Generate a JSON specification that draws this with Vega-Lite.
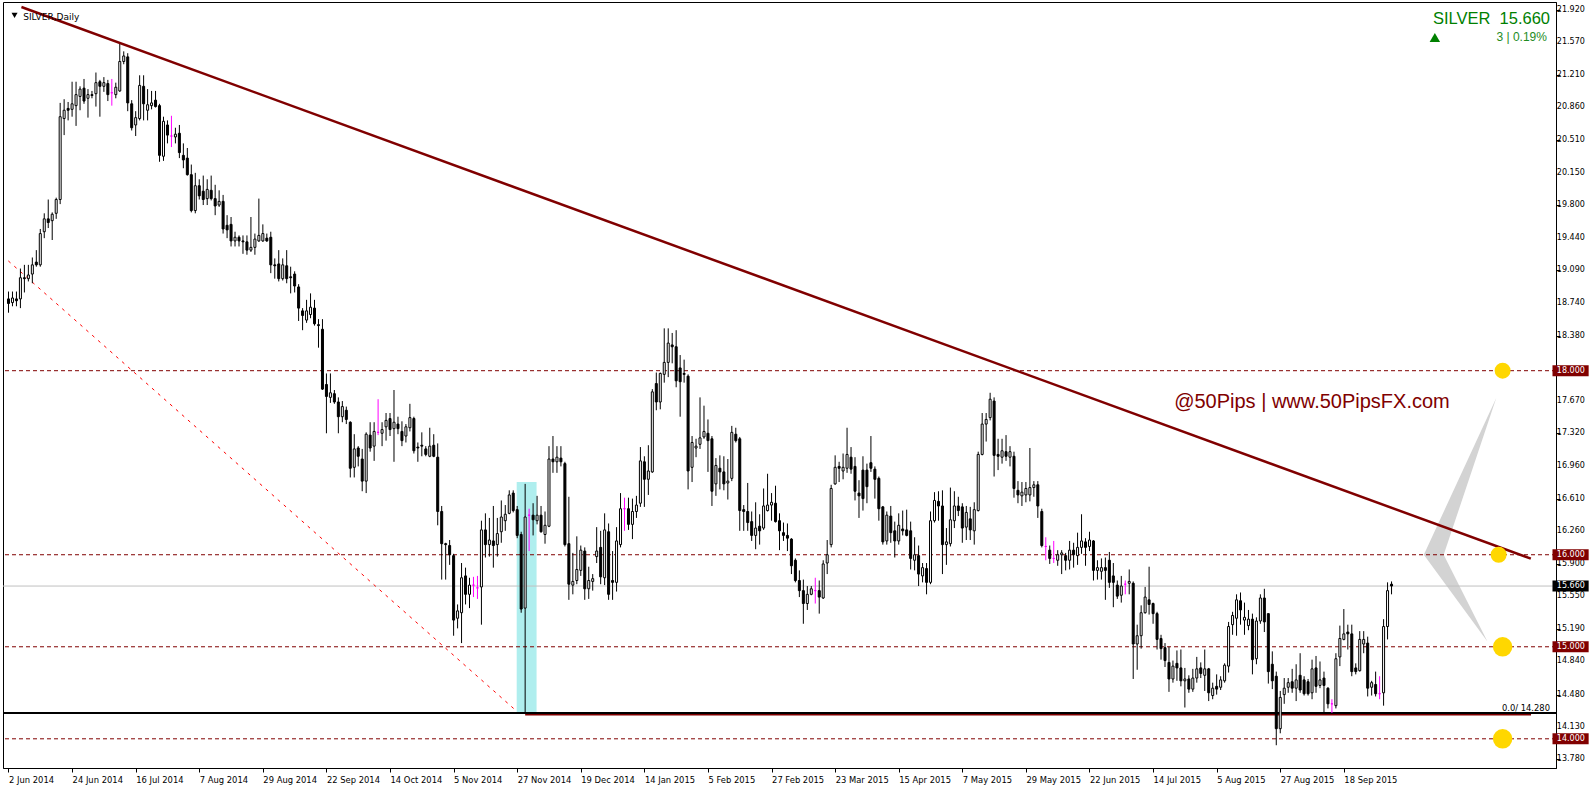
{
"$schema":"https://vega.github.io/schema/vega-lite/v6.json",
"width":1553,"height":766,
"autosize":{"type":"none"},
"padding":{"left":3,"top":2,"right":40,"bottom":18},
"background":"white",
"config":{"view":{"stroke":"black","strokeWidth":1},"axis":{"grid":false,"labelFont":"DejaVu Sans","labelFontSize":8.4,"labelColor":"black","tickColor":"black","domainColor":"black","tickSize":4,"domainWidth":1,"tickWidth":1,"labelOverlap":false,"labelBound":false,"labelFlush":false}},
"datasets":{"k":[
{"o":18.78,"h":18.86,"l":18.63,"c":18.73},{"o":18.74,"h":18.86,"l":18.70,"c":18.79},{"o":18.78,"h":18.86,"l":18.70,"c":18.76},{"o":18.78,"h":19.11,"l":18.68,"c":19.01},{"o":19.01,"h":19.15,"l":18.85,"c":19.00},
{"o":19.00,"h":19.15,"l":18.97,"c":19.04},{"o":19.05,"h":19.23,"l":18.95,"c":19.15},{"o":19.18,"h":19.31,"l":19.13,"c":19.15},{"o":19.15,"h":19.54,"l":19.13,"c":19.49},{"o":19.51,"h":19.71,"l":19.44,"c":19.65},
{"o":19.65,"h":19.86,"l":19.55,"c":19.61},{"o":19.63,"h":19.72,"l":19.42,"c":19.70},{"o":19.71,"h":19.88,"l":19.65,"c":19.86},{"o":19.86,"h":20.91,"l":19.81,"c":20.76},{"o":20.74,"h":20.95,"l":20.56,"c":20.83},
{"o":20.85,"h":20.92,"l":20.72,"c":20.83},{"o":20.84,"h":21.14,"l":20.76,"c":20.90},{"o":20.88,"h":21.14,"l":20.66,"c":21.00},{"o":20.98,"h":21.09,"l":20.83,"c":21.06},{"o":21.07,"h":21.17,"l":20.90,"c":20.93},
{"o":20.96,"h":21.06,"l":20.75,"c":21.00},{"o":21.00,"h":21.04,"l":20.96,"c":20.99},{"o":21.01,"h":21.24,"l":20.87,"c":21.13},{"o":21.14,"h":21.16,"l":20.76,"c":21.09},{"o":21.09,"h":21.19,"l":21.03,"c":21.13},
{"o":21.12,"h":21.16,"l":20.93,"c":21.00},{"o":21.02,"h":21.17,"l":20.88,"c":21.02},{"o":21.00,"h":21.13,"l":20.96,"c":21.08},{"o":21.04,"h":21.57,"l":21.03,"c":21.36},{"o":21.36,"h":21.47,"l":21.33,"c":21.42},
{"o":21.41,"h":21.45,"l":20.82,"c":20.91},{"o":20.90,"h":20.94,"l":20.61,"c":20.64},{"o":20.67,"h":20.82,"l":20.55,"c":20.75},{"o":20.74,"h":21.21,"l":20.72,"c":21.10},{"o":21.09,"h":21.21,"l":20.72,"c":20.90},
{"o":20.83,"h":21.06,"l":20.72,"c":20.89},{"o":20.88,"h":21.04,"l":20.84,"c":20.91},{"o":20.94,"h":21.04,"l":20.86,"c":20.87},{"o":20.88,"h":20.90,"l":20.27,"c":20.34},{"o":20.33,"h":20.76,"l":20.28,"c":20.71},
{"o":20.67,"h":20.72,"l":20.47,"c":20.56},{"o":20.55,"h":20.77,"l":20.43,"c":20.55},{"o":20.54,"h":20.64,"l":20.47,"c":20.57},{"o":20.58,"h":20.67,"l":20.31,"c":20.37},{"o":20.34,"h":20.47,"l":20.20,"c":20.29},
{"o":20.31,"h":20.42,"l":20.12,"c":20.13},{"o":20.13,"h":20.24,"l":19.72,"c":19.74},{"o":19.74,"h":20.15,"l":19.71,"c":20.01},{"o":20.01,"h":20.08,"l":19.86,"c":19.90},{"o":19.95,"h":20.12,"l":19.80,"c":19.86},
{"o":19.87,"h":20.08,"l":19.80,"c":19.97},{"o":19.96,"h":20.12,"l":19.85,"c":19.87},{"o":19.87,"h":20.02,"l":19.69,"c":19.79},{"o":19.80,"h":19.96,"l":19.78,"c":19.84},{"o":19.84,"h":19.91,"l":19.49,"c":19.54},
{"o":19.58,"h":19.69,"l":19.44,"c":19.53},{"o":19.59,"h":19.67,"l":19.35,"c":19.41},{"o":19.41,"h":19.51,"l":19.35,"c":19.45},{"o":19.45,"h":19.47,"l":19.35,"c":19.41},{"o":19.41,"h":19.47,"l":19.27,"c":19.40},
{"o":19.40,"h":19.47,"l":19.26,"c":19.31},{"o":19.31,"h":19.67,"l":19.29,"c":19.34},{"o":19.34,"h":19.49,"l":19.26,"c":19.43},{"o":19.41,"h":19.87,"l":19.40,"c":19.47},{"o":19.41,"h":19.59,"l":19.40,"c":19.49},
{"o":19.44,"h":19.49,"l":19.40,"c":19.41},{"o":19.45,"h":19.51,"l":19.06,"c":19.15},{"o":19.15,"h":19.22,"l":19.00,"c":19.14},{"o":19.16,"h":19.31,"l":18.97,"c":19.00},{"o":19.00,"h":19.22,"l":18.98,"c":19.15},
{"o":19.14,"h":19.31,"l":18.95,"c":19.00},{"o":19.02,"h":19.13,"l":18.84,"c":19.01},{"o":19.05,"h":19.08,"l":18.85,"c":18.92},{"o":18.91,"h":18.94,"l":18.54,"c":18.68},{"o":18.65,"h":18.68,"l":18.44,"c":18.60},
{"o":18.55,"h":18.77,"l":18.52,"c":18.65},{"o":18.61,"h":18.84,"l":18.57,"c":18.69},{"o":18.68,"h":18.77,"l":18.49,"c":18.51},{"o":18.50,"h":18.56,"l":18.25,"c":18.49},{"o":18.45,"h":18.56,"l":17.79,"c":17.80},
{"o":17.85,"h":17.97,"l":17.32,"c":17.72},{"o":17.71,"h":17.97,"l":17.65,"c":17.76},{"o":17.75,"h":17.79,"l":17.64,"c":17.66},{"o":17.66,"h":17.71,"l":17.32,"c":17.50},{"o":17.50,"h":17.67,"l":17.44,"c":17.61},
{"o":17.57,"h":17.61,"l":17.42,"c":17.47},{"o":17.44,"h":17.45,"l":16.84,"c":16.94},{"o":16.95,"h":17.31,"l":16.84,"c":17.15},{"o":17.16,"h":17.18,"l":16.96,"c":17.07},{"o":17.04,"h":17.15,"l":16.69,"c":16.80},
{"o":16.80,"h":17.33,"l":16.67,"c":17.31},{"o":17.30,"h":17.44,"l":17.12,"c":17.16},{"o":17.18,"h":17.44,"l":17.02,"c":17.34},{"o":17.33,"h":17.69,"l":17.30,"c":17.33},{"o":17.32,"h":17.44,"l":17.18,"c":17.36},
{"o":17.39,"h":17.54,"l":17.24,"c":17.46},{"o":17.48,"h":17.54,"l":17.29,"c":17.36},{"o":17.37,"h":17.79,"l":17.01,"c":17.44},{"o":17.42,"h":17.50,"l":17.31,"c":17.37},{"o":17.34,"h":17.45,"l":17.18,"c":17.24},
{"o":17.29,"h":17.42,"l":17.22,"c":17.39},{"o":17.38,"h":17.64,"l":17.34,"c":17.49},{"o":17.48,"h":17.50,"l":17.10,"c":17.13},{"o":17.17,"h":17.22,"l":17.01,"c":17.16},{"o":17.19,"h":17.33,"l":17.07,"c":17.18},
{"o":17.15,"h":17.18,"l":17.07,"c":17.09},{"o":17.07,"h":17.38,"l":17.06,"c":17.18},{"o":17.19,"h":17.31,"l":17.06,"c":17.07},{"o":17.06,"h":17.21,"l":16.32,"c":16.47},{"o":16.47,"h":16.53,"l":15.73,"c":16.12},
{"o":16.12,"h":16.13,"l":15.73,"c":16.11},{"o":16.10,"h":16.16,"l":15.89,"c":16.00},{"o":15.99,"h":16.01,"l":15.12,"c":15.29},{"o":15.31,"h":15.46,"l":15.20,"c":15.39},{"o":15.37,"h":15.91,"l":15.04,"c":15.75},
{"o":15.77,"h":15.86,"l":15.46,"c":15.57},{"o":15.57,"h":15.75,"l":15.42,"c":15.67},{"o":15.67,"h":15.76,"l":15.54,"c":15.67},{"o":15.64,"h":15.77,"l":15.52,"c":15.64},{"o":15.65,"h":16.37,"l":15.24,"c":16.27},
{"o":16.27,"h":16.45,"l":15.97,"c":16.11},{"o":16.11,"h":16.40,"l":15.98,"c":16.16},{"o":16.15,"h":16.53,"l":15.86,"c":16.10},{"o":16.11,"h":16.40,"l":15.98,"c":16.23},{"o":16.25,"h":16.59,"l":16.13,"c":16.41},
{"o":16.37,"h":16.54,"l":16.26,"c":16.44},{"o":16.45,"h":16.70,"l":16.44,"c":16.65},{"o":16.67,"h":16.70,"l":16.46,"c":16.48},{"o":16.49,"h":16.53,"l":16.18,"c":16.21},{"o":16.22,"h":16.25,"l":15.37,"c":15.41},
{"o":15.42,"h":16.77,"l":14.28,"c":16.41},{"o":16.43,"h":16.50,"l":16.04,"c":16.43},{"o":16.43,"h":16.56,"l":16.21,"c":16.38},{"o":16.37,"h":16.64,"l":16.33,"c":16.43},{"o":16.43,"h":16.53,"l":16.24,"c":16.25},
{"o":16.22,"h":16.47,"l":16.12,"c":16.32},{"o":16.31,"h":17.18,"l":16.30,"c":17.04},{"o":17.04,"h":17.29,"l":16.89,"c":17.01},{"o":17.01,"h":17.18,"l":16.89,"c":17.06},{"o":17.05,"h":17.18,"l":16.96,"c":17.01},
{"o":16.99,"h":17.01,"l":16.09,"c":16.11},{"o":16.12,"h":16.63,"l":15.51,"c":15.68},{"o":15.67,"h":16.02,"l":15.57,"c":15.71},{"o":15.72,"h":16.20,"l":15.68,"c":15.84},{"o":15.83,"h":16.10,"l":15.77,"c":16.05},
{"o":16.04,"h":16.08,"l":15.51,"c":15.63},{"o":15.63,"h":15.87,"l":15.52,"c":15.72},{"o":15.71,"h":15.79,"l":15.61,"c":15.74},{"o":15.98,"h":16.30,"l":15.91,"c":16.04},{"o":16.08,"h":16.26,"l":15.68,"c":15.76},
{"o":15.75,"h":16.45,"l":15.67,"c":16.27},{"o":16.25,"h":16.34,"l":15.51,"c":15.57},{"o":15.72,"h":16.04,"l":15.51,"c":15.70},{"o":15.70,"h":16.30,"l":15.60,"c":16.15},{"o":16.11,"h":16.67,"l":16.08,"c":16.50},
{"o":16.50,"h":16.62,"l":16.26,"c":16.50},{"o":16.50,"h":16.62,"l":16.27,"c":16.33},{"o":16.33,"h":16.61,"l":16.17,"c":16.47},{"o":16.47,"h":16.64,"l":16.40,"c":16.54},{"o":16.56,"h":17.17,"l":16.52,"c":17.02},
{"o":17.01,"h":17.07,"l":16.52,"c":16.82},{"o":16.82,"h":17.19,"l":16.65,"c":16.91},{"o":16.90,"h":17.80,"l":16.89,"c":17.77},{"o":17.86,"h":17.98,"l":17.57,"c":17.66},{"o":17.66,"h":17.98,"l":17.58,"c":17.97},
{"o":17.96,"h":18.46,"l":17.87,"c":18.09},{"o":18.09,"h":18.46,"l":17.93,"c":18.30},{"o":18.28,"h":18.41,"l":18.08,"c":18.26},{"o":18.26,"h":18.44,"l":17.82,"c":17.89},{"o":18.03,"h":18.17,"l":17.50,"c":17.88},
{"o":17.97,"h":18.12,"l":17.87,"c":17.96},{"o":17.94,"h":17.96,"l":16.71,"c":16.91},{"o":16.95,"h":17.29,"l":16.79,"c":17.22},{"o":17.16,"h":17.26,"l":17.06,"c":17.18},{"o":17.20,"h":17.71,"l":17.15,"c":17.27},
{"o":17.28,"h":17.62,"l":17.26,"c":17.34},{"o":17.32,"h":17.47,"l":16.90,"c":17.24},{"o":17.26,"h":17.29,"l":16.53,"c":16.69},{"o":16.77,"h":17.05,"l":16.64,"c":16.97},{"o":16.94,"h":17.08,"l":16.71,"c":16.90},
{"o":16.90,"h":17.07,"l":16.70,"c":16.77},{"o":16.78,"h":17.04,"l":16.60,"c":16.80},{"o":16.83,"h":17.40,"l":16.80,"c":17.33},{"o":17.31,"h":17.38,"l":17.22,"c":17.24},{"o":17.26,"h":17.28,"l":16.26,"c":16.48},
{"o":16.49,"h":16.54,"l":16.26,"c":16.47},{"o":16.47,"h":16.78,"l":16.26,"c":16.35},{"o":16.36,"h":16.47,"l":16.15,"c":16.21},{"o":16.21,"h":16.57,"l":16.06,"c":16.29},{"o":16.31,"h":16.44,"l":16.11,"c":16.26},
{"o":16.29,"h":16.72,"l":16.27,"c":16.53},{"o":16.48,"h":16.88,"l":16.47,"c":16.54},{"o":16.54,"h":16.67,"l":16.37,"c":16.57},{"o":16.56,"h":16.75,"l":16.35,"c":16.36},{"o":16.37,"h":16.45,"l":16.05,"c":16.26},
{"o":16.24,"h":16.35,"l":16.15,"c":16.21},{"o":16.21,"h":16.34,"l":16.04,"c":16.18},{"o":16.17,"h":16.18,"l":15.79,"c":15.88},{"o":15.94,"h":15.96,"l":15.70,"c":15.72},{"o":15.72,"h":15.83,"l":15.54,"c":15.61},
{"o":15.61,"h":15.73,"l":15.25,"c":15.47},{"o":15.47,"h":15.66,"l":15.40,"c":15.57},{"o":15.57,"h":15.66,"l":15.56,"c":15.63},{"o":15.61,"h":15.75,"l":15.47,"c":15.61},{"o":15.61,"h":15.72,"l":15.36,"c":15.54},
{"o":15.53,"h":15.94,"l":15.52,"c":15.90},{"o":15.91,"h":16.16,"l":15.79,"c":16.00},{"o":16.11,"h":16.76,"l":16.08,"c":16.72},{"o":16.77,"h":17.08,"l":16.76,"c":16.95},{"o":16.96,"h":17.01,"l":16.79,"c":16.94},
{"o":16.91,"h":17.10,"l":16.82,"c":16.95},{"o":16.94,"h":17.38,"l":16.89,"c":17.09},{"o":17.06,"h":17.17,"l":16.88,"c":16.93},{"o":16.96,"h":17.06,"l":16.59,"c":16.69},{"o":16.67,"h":16.81,"l":16.40,"c":16.64},
{"o":16.92,"h":17.07,"l":16.48,"c":16.61},{"o":16.92,"h":16.99,"l":16.56,"c":16.74},{"o":17.00,"h":17.29,"l":16.90,"c":16.94},{"o":16.93,"h":16.96,"l":16.61,"c":16.82},{"o":16.83,"h":16.85,"l":16.37,"c":16.50},
{"o":16.52,"h":16.53,"l":16.11,"c":16.14},{"o":16.15,"h":16.47,"l":16.11,"c":16.43},{"o":16.42,"h":16.53,"l":16.13,"c":16.24},{"o":16.26,"h":16.36,"l":15.97,"c":16.15},{"o":16.15,"h":16.45,"l":16.11,"c":16.32},
{"o":16.28,"h":16.48,"l":16.21,"c":16.26},{"o":16.27,"h":16.49,"l":16.20,"c":16.21},{"o":16.26,"h":16.36,"l":15.84,"c":15.96},{"o":15.94,"h":16.19,"l":15.83,"c":16.00},{"o":15.99,"h":16.10,"l":15.66,"c":15.79},
{"o":15.77,"h":15.91,"l":15.70,"c":15.86},{"o":15.85,"h":15.91,"l":15.57,"c":15.70},{"o":15.70,"h":16.47,"l":15.68,"c":16.37},{"o":16.37,"h":16.68,"l":16.35,"c":16.59},{"o":16.58,"h":16.69,"l":16.37,"c":16.53},
{"o":16.53,"h":16.70,"l":15.79,"c":16.11},{"o":16.11,"h":16.29,"l":15.89,"c":16.14},{"o":16.12,"h":16.73,"l":16.09,"c":16.38},{"o":16.37,"h":16.69,"l":16.29,"c":16.53},{"o":16.53,"h":16.63,"l":16.42,"c":16.48},
{"o":16.52,"h":16.56,"l":16.13,"c":16.29},{"o":16.30,"h":16.53,"l":16.16,"c":16.46},{"o":16.39,"h":16.52,"l":16.16,"c":16.27},{"o":16.26,"h":16.57,"l":16.11,"c":16.49},{"o":16.48,"h":17.12,"l":16.47,"c":17.09},
{"o":17.09,"h":17.54,"l":17.08,"c":17.42},{"o":17.42,"h":17.54,"l":17.23,"c":17.47},{"o":17.49,"h":17.76,"l":17.46,"c":17.69},{"o":17.67,"h":17.71,"l":16.85,"c":17.08},{"o":17.09,"h":17.26,"l":16.92,"c":17.07},
{"o":17.06,"h":17.26,"l":16.99,"c":17.13},{"o":17.12,"h":17.30,"l":17.02,"c":17.07},{"o":17.06,"h":17.18,"l":16.96,"c":17.12},{"o":17.07,"h":17.12,"l":16.62,"c":16.72},{"o":16.70,"h":16.80,"l":16.56,"c":16.65},
{"o":16.64,"h":16.79,"l":16.53,"c":16.68},{"o":16.65,"h":16.79,"l":16.57,"c":16.72},{"o":16.65,"h":17.16,"l":16.58,"c":16.73},{"o":16.73,"h":16.80,"l":16.63,"c":16.76},{"o":16.76,"h":16.80,"l":16.40,"c":16.53},
{"o":16.47,"h":16.50,"l":16.08,"c":16.10},{"o":16.09,"h":16.19,"l":15.94,"c":16.09},{"o":16.05,"h":16.10,"l":15.90,"c":15.96},{"o":15.96,"h":16.15,"l":15.91,"c":15.96},{"o":15.94,"h":16.05,"l":15.88,"c":16.00},
{"o":16.00,"h":16.05,"l":15.79,"c":16.02},{"o":15.99,"h":16.02,"l":15.83,"c":15.94},{"o":15.94,"h":16.15,"l":15.84,"c":16.05},{"o":16.05,"h":16.13,"l":15.86,"c":16.00},{"o":15.99,"h":16.24,"l":15.89,"c":16.08},
{"o":16.08,"h":16.44,"l":16.01,"c":16.15},{"o":16.14,"h":16.18,"l":15.88,"c":16.08},{"o":16.09,"h":16.25,"l":16.04,"c":16.16},{"o":16.15,"h":16.16,"l":15.72,"c":15.83},{"o":15.83,"h":15.94,"l":15.73,"c":15.86},
{"o":15.82,"h":15.96,"l":15.73,"c":15.86},{"o":15.86,"h":15.97,"l":15.51,"c":15.83},{"o":15.94,"h":16.03,"l":15.64,"c":15.70},{"o":15.77,"h":15.91,"l":15.43,"c":15.70},{"o":15.67,"h":15.72,"l":15.52,"c":15.55},
{"o":15.56,"h":15.77,"l":15.48,"c":15.66},{"o":15.68,"h":15.72,"l":15.57,"c":15.68},{"o":15.69,"h":15.84,"l":15.57,"c":15.71},{"o":15.69,"h":15.71,"l":14.65,"c":15.03},{"o":15.03,"h":15.24,"l":14.75,"c":15.12},
{"o":15.12,"h":15.45,"l":14.98,"c":15.37},{"o":15.37,"h":15.65,"l":15.36,"c":15.54},{"o":15.51,"h":15.87,"l":15.35,"c":15.46},{"o":15.47,"h":15.48,"l":15.25,"c":15.36},{"o":15.36,"h":15.38,"l":14.97,"c":15.08},
{"o":15.09,"h":15.13,"l":14.86,"c":14.98},{"o":14.99,"h":15.04,"l":14.78,"c":14.85},{"o":14.83,"h":15.00,"l":14.51,"c":14.65},{"o":14.65,"h":14.85,"l":14.61,"c":14.79},{"o":14.82,"h":14.96,"l":14.63,"c":14.77},
{"o":14.77,"h":14.97,"l":14.57,"c":14.63},{"o":14.63,"h":14.77,"l":14.34,"c":14.65},{"o":14.65,"h":14.69,"l":14.50,"c":14.54},{"o":14.54,"h":14.76,"l":14.51,"c":14.66},{"o":14.66,"h":14.89,"l":14.61,"c":14.76},
{"o":14.77,"h":14.83,"l":14.66,"c":14.71},{"o":14.69,"h":14.97,"l":14.52,"c":14.76},{"o":14.76,"h":14.77,"l":14.41,"c":14.50},{"o":14.47,"h":14.61,"l":14.43,"c":14.55},{"o":14.57,"h":14.70,"l":14.48,"c":14.54},
{"o":14.56,"h":14.68,"l":14.53,"c":14.64},{"o":14.63,"h":14.82,"l":14.61,"c":14.80},{"o":14.79,"h":15.27,"l":14.72,"c":15.22},{"o":15.24,"h":15.38,"l":15.13,"c":15.34},{"o":15.31,"h":15.57,"l":15.12,"c":15.51},
{"o":15.50,"h":15.59,"l":15.24,"c":15.40},{"o":15.29,"h":15.48,"l":15.13,"c":15.32},{"o":15.23,"h":15.40,"l":15.18,"c":15.30},{"o":15.30,"h":15.36,"l":14.70,"c":14.86},{"o":14.87,"h":15.32,"l":14.81,"c":15.28},
{"o":15.28,"h":15.57,"l":15.25,"c":15.53},{"o":15.53,"h":15.63,"l":15.16,"c":15.27},{"o":15.36,"h":15.36,"l":14.60,"c":14.73},{"o":14.81,"h":14.95,"l":14.54,"c":14.63},{"o":14.68,"h":14.73,"l":13.93,"c":14.11},
{"o":14.11,"h":14.52,"l":14.06,"c":14.45},{"o":14.48,"h":14.66,"l":14.38,"c":14.55},{"o":14.56,"h":14.66,"l":14.50,"c":14.61},{"o":14.62,"h":14.76,"l":14.50,"c":14.55},{"o":14.55,"h":14.81,"l":14.41,"c":14.64},
{"o":14.69,"h":14.93,"l":14.50,"c":14.53},{"o":14.64,"h":14.68,"l":14.47,"c":14.49},{"o":14.62,"h":14.65,"l":14.47,"c":14.49},{"o":14.50,"h":14.86,"l":14.43,"c":14.76},{"o":14.77,"h":14.90,"l":14.50,"c":14.57},
{"o":14.58,"h":14.84,"l":14.55,"c":14.64},{"o":14.66,"h":14.73,"l":14.28,"c":14.58},{"o":14.55,"h":14.56,"l":14.33,"c":14.38},{"o":14.38,"h":14.43,"l":14.28,"c":14.38},{"o":14.36,"h":14.93,"l":14.33,"c":14.87},
{"o":14.89,"h":15.23,"l":14.79,"c":15.09},{"o":15.08,"h":15.41,"l":15.07,"c":15.14},{"o":15.16,"h":15.24,"l":14.97,"c":15.14},{"o":15.14,"h":15.24,"l":14.68,"c":14.73},{"o":14.77,"h":14.82,"l":14.70,"c":14.73},
{"o":14.74,"h":15.17,"l":14.73,"c":15.08},{"o":15.03,"h":15.17,"l":14.93,"c":15.08},{"o":15.04,"h":15.11,"l":14.46,"c":14.55},{"o":14.56,"h":14.63,"l":14.47,"c":14.61},{"o":14.59,"h":14.73,"l":14.46,"c":14.49},
{"o":14.49,"h":14.68,"l":14.43,"c":14.49},{"o":14.50,"h":15.30,"l":14.36,"c":15.22},{"o":15.22,"h":15.70,"l":15.08,"c":15.61},{"o":15.68,"h":15.71,"l":15.57,"c":15.66}
],
"yt":[{"v":21.92},{"v":21.57},{"v":21.21},{"v":20.86},{"v":20.51},{"v":20.15},{"v":19.8},{"v":19.44},{"v":19.09},{"v":18.74},{"v":18.38},{"v":17.67},{"v":17.32},{"v":16.96},{"v":16.61},{"v":16.26},{"v":15.9},{"v":15.55},{"v":15.19},{"v":14.84},{"v":14.48},{"v":14.13},{"v":13.78}]
},
"layer":[
{"data":{"values":[{"a":128.875,"b":133.875,"lo":14.28,"hi":16.79}]},
 "mark":{"type":"rect","color":"#AFEEEE"},
 "encoding":{"x":{"field":"a","type":"quantitative","title":null,"scale":{"domain":[0.875,389.125],"nice":false,"zero":false}},"x2":{"field":"b"},
 "y":{"field":"lo","type":"quantitative","title":null,"scale":{"domain":[13.737,21.952],"nice":false,"zero":false}},"y2":{"field":"hi"}}},
{"data":{"values":[{"p":17.705,"a":375.375,"b":375.375},{"p":16.0,"a":357.125,"b":362.125},{"p":15.056,"a":373.125,"b":373.125}]},
 "mark":{"type":"area","orient":"horizontal","color":"#D3D3D3","opacity":1},
 "encoding":{"y":{"field":"p","type":"quantitative","title":null},"x":{"field":"a","type":"quantitative","title":null},"x2":{"field":"b"}}},
{"data":{"values":[{"v":18},{"v":16},{"v":15},{"v":14}]},
 "mark":{"type":"rule","color":"#800000","strokeDash":[4,3],"strokeWidth":1},
 "encoding":{"y":{"field":"v","type":"quantitative","title":null}}},
{"data":{"values":[{"v":15.66}]},
 "mark":{"type":"rule","color":"#C0C0C0","strokeWidth":1},
 "encoding":{"y":{"field":"v","type":"quantitative","title":null}}},
{"data":{"values":[{"v":14.28}]},
 "mark":{"type":"rule","color":"black","strokeWidth":2},
 "encoding":{"y":{"field":"v","type":"quantitative","title":null}}},
{"data":{"values":[{"a":131,"b":384.1,"v":14.262}]},
 "mark":{"type":"rule","color":"#800000","strokeWidth":1.5},
 "encoding":{"x":{"field":"a","type":"quantitative","title":null},"x2":{"field":"b"},"y":{"field":"v","type":"quantitative","title":null}}},
{"data":{"values":[{"a":0.95,"b":128.875,"v":19.193,"w":14.30}]},
 "mark":{"type":"rule","color":"#FF0000","strokeWidth":1,"strokeDash":[3,5]},
 "encoding":{"x":{"field":"a","type":"quantitative","title":null},"x2":{"field":"b"},"y":{"field":"v","type":"quantitative","title":null},"y2":{"field":"w"}}},
{"data":{"name":"k"},
 "transform":[{"window":[{"op":"row_number","as":"n"}]}],
 "mark":{"type":"rule","strokeWidth":1},
 "encoding":{
  "x":{"field":"n","type":"quantitative","title":null,"scale":{"domain":[0.875,389.125],"nice":false,"zero":false},
   "axis":{"title":null,"values":[1,17,33,49,65,81,97,113,129,145,161,177,193,209,225,241,257,273,289,305,321,337],
   "labelExpr":"['2 Jun 2014','24 Jun 2014','16 Jul 2014','7 Aug 2014','29 Aug 2014','22 Sep 2014','14 Oct 2014','5 Nov 2014','27 Nov 2014','19 Dec 2014','14 Jan 2015','5 Feb 2015','27 Feb 2015','23 Mar 2015','15 Apr 2015','7 May 2015','29 May 2015','22 Jun 2015','14 Jul 2015','5 Aug 2015','27 Aug 2015','18 Sep 2015'][round((datum.value-1)/16)]",
   "labelAlign":"left","labelDx":-1,"labelPadding":3,"labelFlush":false,"labelBound":false,"labelOverlap":false,"tickSize":4}},
  "y":{"field":"l","type":"quantitative","title":null,"scale":{"domain":[13.737,21.952],"nice":false,"zero":false},
   "axis":{"title":null,"orient":"right","values":[21.92,21.57,21.21,20.86,20.51,20.15,19.8,19.44,19.09,18.74,18.38,17.67,17.32,16.96,16.61,16.26,15.9,15.55,15.19,14.84,14.48,14.13,13.78],
   "labels":false,"tickSize":4}},
  "y2":{"field":"h"},
  "stroke":{"condition":{"test":"datum.o == datum.c","value":"#FF00FF"},"value":"black"}}},
{"data":{"name":"k"},
 "transform":[{"window":[{"op":"row_number","as":"n"}]}],
 "mark":{"type":"bar","size":2,"strokeWidth":1,"orient":"vertical"},
 "encoding":{
  "x":{"field":"n","type":"quantitative","title":null},
  "y":{"field":"o","type":"quantitative","title":null},
  "y2":{"field":"c"},
  "fill":{"condition":{"test":"datum.c > datum.o","value":"white"},"value":"black"},
  "stroke":{"condition":{"test":"datum.o == datum.c","value":"#FF00FF"},"value":"black"}}},
{"data":{"values":[{"a":4.25,"b":384.05,"v":21.952,"w":15.957}]},
 "mark":{"type":"rule","color":"#800000","strokeWidth":2.5},
 "encoding":{"x":{"field":"a","type":"quantitative","title":null},"x2":{"field":"b"},"y":{"field":"v","type":"quantitative","title":null},"y2":{"field":"w"}}},
{"data":{"values":[{"a":376.95,"v":18},{"a":375.95,"v":16}]},
 "mark":{"type":"circle","size":254,"color":"#FFD700","opacity":1},
 "encoding":{"x":{"field":"a","type":"quantitative","title":null},"y":{"field":"v","type":"quantitative","title":null}}},
{"data":{"values":[{"a":376.95,"v":15},{"a":376.95,"v":14}]},
 "mark":{"type":"circle","size":380,"color":"#FFD700","opacity":1},
 "encoding":{"x":{"field":"a","type":"quantitative","title":null},"y":{"field":"v","type":"quantitative","title":null}}},
{"data":{"values":[{"a":294.3,"v":17.598,"t":"@50Pips | www.50PipsFX.com"}]},
 "mark":{"type":"text","align":"left","baseline":"alphabetic","font":"Liberation Sans","fontSize":20,"color":"#800000"},
 "encoding":{"x":{"field":"a","type":"quantitative","title":null},"y":{"field":"v","type":"quantitative","title":null},"text":{"field":"t"}}},
{"data":{"values":[{"a":388.875,"v":21.77,"t":"SILVER\u00a0\u00a015.660"}]},
 "mark":{"type":"text","align":"right","baseline":"alphabetic","font":"Liberation Sans","fontSize":16.5,"color":"#008000"},
 "encoding":{"x":{"field":"a","type":"quantitative","title":null},"y":{"field":"v","type":"quantitative","title":null},"text":{"field":"t"}}},
{"data":{"values":[{"a":388.1,"v":21.582,"t":"3 | 0.19%"}]},
 "mark":{"type":"text","align":"right","baseline":"alphabetic","font":"Liberation Sans","fontSize":12,"color":"#1E8C1E"},
 "encoding":{"x":{"field":"a","type":"quantitative","title":null},"y":{"field":"v","type":"quantitative","title":null},"text":{"field":"t"}}},
{"data":{"values":[{"a":359.9,"v":21.62}]},
 "mark":{"type":"point","shape":"triangle-up","size":110,"filled":true,"color":"#008000","opacity":1},
 "encoding":{"x":{"field":"a","type":"quantitative","title":null},"y":{"field":"v","type":"quantitative","title":null}}},
{"data":{"values":[{"a":2.525,"v":21.862}]},
 "mark":{"type":"point","shape":"triangle-down","size":36,"filled":true,"color":"black","opacity":1},
 "encoding":{"x":{"field":"a","type":"quantitative","title":null},"y":{"field":"v","type":"quantitative","title":null}}},
{"data":{"values":[{"a":4.7,"v":21.813,"t":"SILVER,Daily"}]},
 "mark":{"type":"text","align":"left","baseline":"alphabetic","font":"DejaVu Sans","fontSize":9,"color":"black"},
 "encoding":{"x":{"field":"a","type":"quantitative","title":null},"y":{"field":"v","type":"quantitative","title":null},"text":{"field":"t"}}},
{"data":{"name":"yt"},
 "mark":{"type":"text","align":"left","baseline":"middle","font":"DejaVu Sans","fontSize":8,"color":"black"},
 "encoding":{"x":{"datum":390.6,"type":"quantitative"},"y":{"field":"v","type":"quantitative","title":null},"text":{"field":"v","format":".3f"}}},
{"data":{"values":[{"v":18},{"v":16},{"v":15},{"v":14}]},
 "mark":{"type":"bar","size":11,"color":"#800000","orient":"horizontal"},
 "encoding":{"x":{"datum":389.5,"type":"quantitative"},"x2":{"datum":398.6},"y":{"field":"v","type":"quantitative","title":null}}},
{"data":{"values":[{"v":15.66}]},
 "mark":{"type":"bar","size":11,"color":"black","orient":"horizontal"},
 "encoding":{"x":{"datum":389.5,"type":"quantitative"},"x2":{"datum":398.6},"y":{"field":"v","type":"quantitative","title":null}}},
{"data":{"values":[{"v":18},{"v":16},{"v":15},{"v":14},{"v":15.66}]},
 "mark":{"type":"text","align":"left","baseline":"middle","font":"DejaVu Sans","fontSize":8,"color":"white"},
 "encoding":{"x":{"datum":390.6,"type":"quantitative"},"y":{"field":"v","type":"quantitative","title":null},"text":{"field":"v","format":".3f"}}},
{"data":{"values":[{"a":388.875,"v":14.306,"t":"0.0/ 14.280"}]},
 "mark":{"type":"text","align":"right","baseline":"alphabetic","font":"DejaVu Sans","fontSize":8.4,"color":"black"},
 "encoding":{"x":{"field":"a","type":"quantitative","title":null},"y":{"field":"v","type":"quantitative","title":null},"text":{"field":"t"}}}
]
}
